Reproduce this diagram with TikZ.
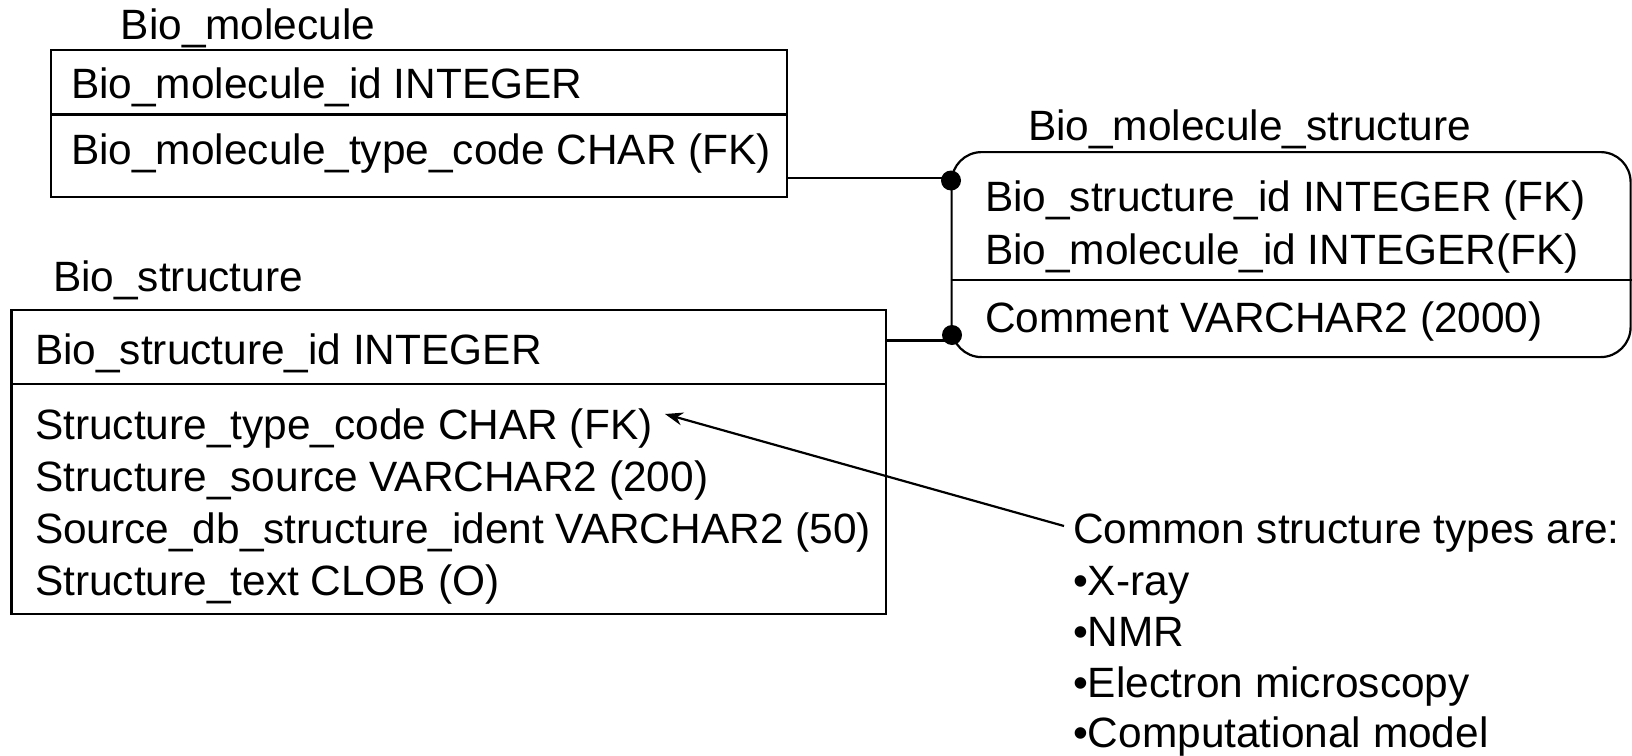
\documentclass[tikz,border=0pt]{standalone}
\usepackage{fontspec}
\setmainfont{Liberation Sans}
\usetikzlibrary{arrows.meta}
\begin{document}
\begin{tikzpicture}[x=1pt,y=-1pt,line width=2.2pt,
  txt/.style={font=\fontsize{42.4}{50}\selectfont,inner sep=0pt,anchor=base west},
  tbl/.style={draw,inner sep=0pt,anchor=north west},
  dotmark/.style={circle,fill,inner sep=0pt,minimum size=20pt},
  conn/.style={line width=2.2pt}]
\useasboundingbox (0,0) rectangle (1632,755);
% Bio_molecule
\node[txt] (bmt) at (119.7,39) {Bio\_molecule};
\node[tbl,minimum width=736pt,minimum height=147pt] (bmbox) at (50,49) {};
\draw ([yshift=-65.5pt]bmbox.north west) -- ([yshift=-65.5pt]bmbox.north east);
\node[txt] (bm1) at (70,98) {Bio\_molecule\_id INTEGER};
\node[txt] (bm2) at (70,164) {Bio\_molecule\_type\_code CHAR (FK)};
% Bio_molecule_structure
\node[txt] (bmst) at (1027,140) {Bio\_molecule\_structure};
\node[tbl,rounded corners=30pt,minimum width=679pt,minimum height=205pt] (bmsbox) at (950.5,151) {};
\draw ([yshift=-129pt]bmsbox.north west) -- ([yshift=-129pt]bmsbox.north east);
\node[txt] (bms1) at (984,211) {Bio\_structure\_id INTEGER (FK)};
\node[txt] (bms2) at (984,264) {Bio\_molecule\_id INTEGER(FK)};
\node[txt] (bms3) at (984,332) {Comment VARCHAR2 (2000)};
% Bio_structure
\node[txt] (bst) at (52,291) {Bio\_structure};
\node[tbl,minimum width=874.6pt,minimum height=304pt] (bsbox) at (10.4,309) {};
\draw ([yshift=-75pt]bsbox.north west) -- ([yshift=-75pt]bsbox.north east);
\node[txt] (bs1) at (34,364) {Bio\_structure\_id INTEGER};
\node[txt] (bs2) at (34,439) {Structure\_type\_code CHAR (FK)};
\node[txt] (bs3) at (34,491) {Structure\_source VARCHAR2 (200)};
\node[txt] (bs4) at (34,543) {Source\_db\_structure\_ident VARCHAR2 (50)};
\node[txt] (bs5) at (34,595) {Structure\_text CLOB (O)};
% connectors
\node[dotmark] (d1) at (951,180.5) {};
\node[dotmark] (d2) at (952,335) {};
\coordinate (c1) at (951,178);
\coordinate (c2) at (951,340.5);
\draw[conn] (c1) -- (c1 -| bmbox.east);
\draw[conn] (c2) -- (c2 -| bsbox.east);
% note
\node[txt] (n0) at (1072,543) {Common structure types are:};
\node[txt] (n1) at (1072,595) {•X-ray};
\node[txt] (n2) at (1072,646) {•NMR};
\node[txt] (n3) at (1072,697) {•Electron microscopy};
\node[txt] (n4) at (1072,747) {•Computational model};
\coordinate (tail) at (1064,526);
\coordinate (tip) at (665,414);
\draw[conn,-{Stealth[length=18pt,width=13pt]}] (tail) -- (tip);
\end{tikzpicture}
\end{document}
